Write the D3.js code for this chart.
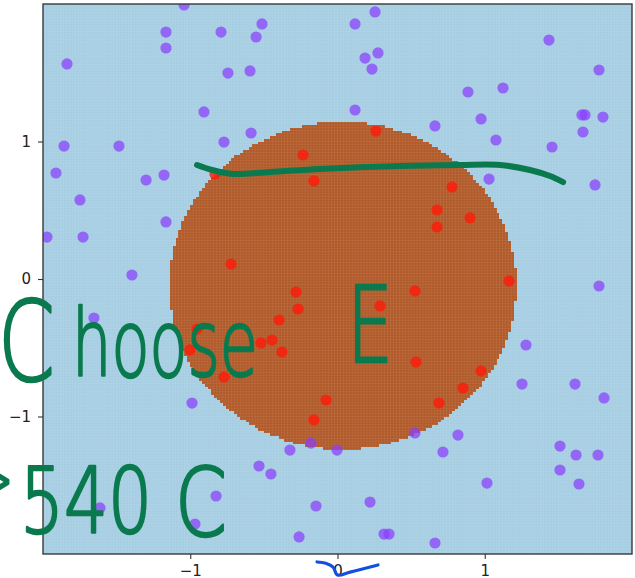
<!DOCTYPE html>
<html>
<head>
<meta charset="utf-8">
<script src="https://cdn.jsdelivr.net/npm/d3@7/dist/d3.min.js"></script>
<style>
  body { margin: 0; background: #fff; }
  svg { display: block; }
</style>
</head>
<body>
<svg id="chart" width="635" height="578"></svg>
<script>
// ---- data ---------------------------------------------------------------
// class 0 (outside the ring), [x, y]
const outerX = [-1.042,-1.165,-1.165,-1.837,-0.791,-0.513,-0.553,-0.744,-0.594,0.119,0.255,0.275,0.187,0.234,
  1.436,1.776,0.886,1.124,-0.907,0.119,0.662,0.975,1.076,1.660,1.681,1.803,1.667,1.457,1.749,-1.857,-1.484,
  -1.912,-1.300,-1.178,1.029,-1.749,-1.165,-1.973,-1.728,-1.396,1.776,-1.654,-0.988,1.280,1.253,1.613,1.810,
  1.511,1.620,1.769,1.511,1.640,0.818,0.526,0.716,-0.180,-0.003,-0.323,-0.533,-0.452,-0.146,0.221,-0.261,
  0.316,0.350,0.662,1.015,-0.825,-0.968,-1.613,-0.771,-0.587];
const outerY = [1.993,1.796,1.680,1.564,1.796,1.855,1.760,1.498,1.513,1.855,1.942,1.644,1.607,1.527,
  1.738,1.520,1.360,1.389,1.215,1.229,1.113,1.164,1.011,1.193,1.193,1.178,1.069,0.960,0.684,0.967,0.967,
  0.771,0.720,0.756,0.727,0.575,0.415,0.305,0.305,0.029,-0.051,-0.284,-0.902,-0.480,-0.764,-0.764,-0.865,
  -1.215,-1.280,-1.280,-1.389,-1.491,-1.135,-1.120,-1.258,-1.193,-1.244,-1.244,-1.360,-1.418,-1.651,-1.622,-1.876,
  -1.855,-1.855,-1.920,-1.484,-1.578,-1.782,-1.665,0.996,1.062];

// class 1 (inside the ring), [x, y]
const innerX = [0.261,-0.234,-0.160,-0.832,-0.723,-0.282,-0.268,-0.397,-0.954,-0.445,-0.520,-0.377,-1.002,
  -0.771,-0.078,-0.160,0.778,0.676,0.900,0.676,1.165,0.526,0.289,0.533,0.975,0.852,0.689];
const innerY = [1.076,0.902,0.713,0.764,0.109,-0.095,-0.218,-0.298,-0.364,-0.444,-0.465,-0.531,-0.516,
  -0.713,-0.880,-1.025,0.669,0.502,0.444,0.378,-0.015,-0.087,-0.196,-0.604,-0.669,-0.793,-0.902];

// fitted decision region: ellipse centre and semi-axes (data units)
const regionCenter = [0.036, -0.047];
const regionRadii = [1.18, 1.19];
const meshStep = 0.02;

const xDomain = [-2, 2];
const yDomain = [-2, 2];
const xTickValues = [-1, 0, 1];
const yTickValues = [-1, 0, 1];

// pen annotations (data units)
const penLineX = [-0.954,-0.852,-0.710,-0.458,-0.119,0.424,0.832,1.104,1.307,1.443,1.532];
const penLineY = [0.829,0.793,0.764,0.778,0.800,0.822,0.829,0.829,0.793,0.749,0.705];
const checkX = [-0.139,-0.080,-0.030,0.000,0.085,0.275];
const checkY = [-2.058,-2.068,-2.095,-2.153,-2.132,-2.080];

// ---- drawing ------------------------------------------------------------
const svg = d3.select("#chart");
const W = 635, H = 578;
const pLeft = 43, pRight = 632, pTop = 4, pBottom = 554;

const x = d3.scaleLinear().domain(xDomain).range([pLeft, pRight]);
const y = d3.scaleLinear().domain(yDomain).range([pBottom, pTop]);

const BLUE = "#a6cee3", BROWN = "#b15928";
const GREEN = "#0a7a4e", INK_BLUE = "#1250e0";

svg.append("rect").attr("width", W).attr("height", H).attr("fill", "#fff");

const clip = svg.append("defs").append("clipPath").attr("id", "plotclip");
clip.append("rect").attr("x", pLeft).attr("y", pTop).attr("width", pRight - pLeft).attr("height", pBottom - pTop);

const plot = svg.append("g").attr("clip-path", "url(#plotclip)");

plot.append("rect")
  .attr("x", pLeft).attr("y", pTop)
  .attr("width", pRight - pLeft).attr("height", pBottom - pTop)
  .attr("fill", BLUE);

// mesh cells classified as class 1, merged into row runs
const nCells = Math.round((xDomain[1] - xDomain[0]) / meshStep);
const runs = [];
for (let j = 0; j < nCells; j++) {
  const y0 = yDomain[0] + j * meshStep, yc = y0 + meshStep / 2;
  let start = null;
  for (let i = 0; i <= nCells; i++) {
    const xc = xDomain[0] + (i + 0.5) * meshStep;
    const inside = i < nCells &&
      ((xc - regionCenter[0]) / regionRadii[0]) ** 2 + ((yc - regionCenter[1]) / regionRadii[1]) ** 2 <= 1;
    if (inside && start === null) start = i;
    if (!inside && start !== null) {
      runs.push({ x0: xDomain[0] + start * meshStep, x1: xDomain[0] + i * meshStep, y0, y1: y0 + meshStep });
      start = null;
    }
  }
}
plot.append("g").attr("shape-rendering", "crispEdges")
  .selectAll("rect").data(runs).join("rect")
  .attr("x", d => x(d.x0)).attr("width", d => x(d.x1) - x(d.x0))
  .attr("y", d => y(d.y1)).attr("height", d => y(d.y0) - y(d.y1) + 0.3)
  .attr("fill", BROWN);

// faint mesh lines
const meshLines = d3.range(1, nCells).map(k => xDomain[0] + k * meshStep);
const grid = plot.append("g").attr("stroke", "#fff").attr("stroke-opacity", 0.11).attr("stroke-width", 0.7);
grid.selectAll("line.v").data(meshLines).join("line").attr("class", "v")
  .attr("x1", d => x(d)).attr("x2", d => x(d)).attr("y1", pTop).attr("y2", pBottom);
grid.selectAll("line.h").data(meshLines).join("line").attr("class", "h")
  .attr("y1", d => y(d)).attr("y2", d => y(d)).attr("x1", pLeft).attr("x2", pRight);

// scatter points
const outer = outerX.map((v, i) => [v, outerY[i]]);
const inner = innerX.map((v, i) => [v, innerY[i]]);
plot.append("g").selectAll("circle").data(outer).join("circle")
  .attr("cx", d => x(d[0])).attr("cy", d => y(d[1])).attr("r", 5.6)
  .attr("fill", "#8a3ffc").attr("fill-opacity", 0.72);
plot.append("g").selectAll("circle").data(inner).join("circle")
  .attr("cx", d => x(d[0])).attr("cy", d => y(d[1])).attr("r", 5.6)
  .attr("fill", "#ff1a0a").attr("fill-opacity", 0.8);

// frame and axes
svg.append("rect")
  .attr("x", pLeft).attr("y", pTop).attr("width", pRight - pLeft).attr("height", pBottom - pTop)
  .attr("fill", "none").attr("stroke", "#3a3a3a").attr("stroke-width", 1.4);

const fmt = d3.format("d");
const gx = svg.append("g").attr("transform", `translate(0,${pBottom})`)
  .call(d3.axisBottom(x).tickValues(xTickValues).tickSize(5).tickPadding(6).tickFormat(fmt));
const gy = svg.append("g").attr("transform", `translate(${pLeft},0)`)
  .call(d3.axisLeft(y).tickValues(yTickValues).tickSize(5).tickPadding(7).tickFormat(fmt));
[gx, gy].forEach(g => {
  g.select(".domain").remove();
  g.selectAll(".tick line").attr("stroke", "#333").attr("stroke-width", 1.1);
  g.selectAll(".tick text").attr("fill", "#222")
    .style("font-family", "'DejaVu Sans', sans-serif").style("font-size", "15px");
});

// ---- pen annotations ----------------------------------------------------
const pen = d3.line().curve(d3.curveCatmullRom.alpha(0.5));
svg.append("path")
  .attr("d", pen(penLineX.map((v, i) => [x(v), y(penLineY[i])])))
  .attr("fill", "none").attr("stroke", GREEN).attr("stroke-width", 6)
  .attr("stroke-linecap", "round").attr("stroke-linejoin", "round");

svg.append("path")
  .attr("d", pen(checkX.map((v, i) => [x(v), y(checkY[i])])))
  .attr("fill", "none").attr("stroke", INK_BLUE).attr("stroke-width", 3.2)
  .attr("stroke-linecap", "round");

const words = [
  { t: "C",     x: -2.306, y: -0.735, size: 110, len: 57 },
  { t: "hoose", x: -1.803, y: -0.705, size: 92,  len: 186 },
  { t: "E",     x: 0.065,  y: -0.600, size: 106, len: 46 },
  { t: ">",     x: -2.47,  y: -1.655, size: 80,  len: 40 },
  { t: "540",   x: -2.156, y: -1.847, size: 90,  len: 132 },
  { t: "C",     x: -1.104, y: -1.869, size: 94,  len: 52 }
];
svg.append("g").selectAll("text").data(words).join("text")
  .attr("x", d => x(d.x)).attr("y", d => y(d.y))
  .attr("textLength", d => d.len).attr("lengthAdjust", "spacingAndGlyphs")
  .style("font-family", "'DejaVu Sans', sans-serif")
  .style("font-size", d => d.size + "px")
  .style("font-weight", 300)
  .attr("fill", GREEN)
  .attr("stroke", GREEN).attr("stroke-width", 2.6)
  .attr("stroke-linejoin", "round")
  .text(d => d.t);
</script>
</body>
</html>
